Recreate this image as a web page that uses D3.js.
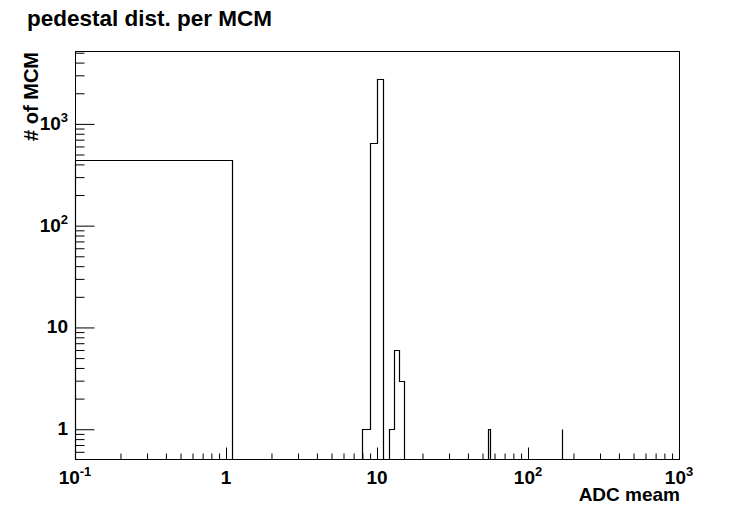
<!DOCTYPE html>
<html>
<head>
<meta charset="utf-8">
<script src="https://cdn.jsdelivr.net/npm/d3@7"></script>
<style>
  html, body { margin: 0; padding: 0; background: #fff; }
  svg { display: block; }
  text { font-family: "Liberation Sans", Arial, Helvetica, sans-serif; font-weight: bold; fill: #000; }
</style>
</head>
<body>
<svg id="chart" width="756" height="511"></svg>
<script>
// ---- data ----
const title = "pedestal dist. per MCM";
const xTitle = "ADC meam";
const yTitle = "# of MCM";
const binLow  = [0.1, 8, 9, 10, 12, 13, 14, 54, 167];
const binHigh = [1.1, 9, 10, 11, 13, 14, 15, 55.6, 168];
const counts  = [440, 1, 650, 2750, 1, 6, 3, 1, 1];
const xDomain = [0.1, 1000];
const yDomain = [0.51, 5200];
const xMajor = [0.1, 1, 10, 100, 1000];
const xMajorBase = ["10", "1", "10", "10", "10"];
const xMajorExp  = ["-1", "", "", "2", "3"];
const yMajor = [1, 10, 100, 1000];
const yMajorBase = ["1", "10", "10", "10"];
const yMajorExp  = ["", "", "2", "3"];

// ---- layout ----
const m = { left: 75, right: 679, top: 51, bottom: 459 };
const svg = d3.select("#chart");

const x = d3.scaleLog().domain(xDomain).range([m.left, m.right]);
const y = d3.scaleLog().domain(yDomain).range([m.bottom, m.top]);
const px = v => Math.round(v) + 0.5;

function minorTicks(domain) {
  const out = [];
  const lo = Math.floor(Math.log10(domain[0])), hi = Math.ceil(Math.log10(domain[1]));
  for (let e = lo; e <= hi; e++) {
    for (let k = 2; k <= 9; k++) {
      const v = k * Math.pow(10, e);
      if (v >= domain[0] * 0.9999 && v <= domain[1] * 1.0001) out.push(v);
    }
  }
  return out;
}

// histogram step outline
const bins = binLow.map((lo, i) => ({ lo, hi: binHigh[i], c: counts[i] }));
const base = m.bottom + 0.5;
let pts = [];
bins.forEach((b, i) => {
  const x0 = px(x(b.lo)), x1 = px(x(b.hi)), yt = px(y(b.c));
  const prev = bins[i - 1];
  if (!prev || Math.abs(prev.hi - b.lo) > 1e-9) pts.push([x0, base]);
  pts.push([x0, yt]);
  pts.push([x1, yt]);
  const next = bins[i + 1];
  if (!next || Math.abs(next.lo - b.hi) > 1e-9) pts.push([x1, base]);
});
svg.append("path")
  .attr("d", d3.line()(pts))
  .attr("fill", "none").attr("stroke", "#000").attr("stroke-width", 1.2);

// frame
svg.append("rect")
  .attr("x", m.left + 0.5).attr("y", m.top + 0.5)
  .attr("width", m.right - m.left).attr("height", m.bottom - m.top)
  .attr("fill", "none").attr("stroke", "#000").attr("stroke-width", 1);

// x ticks
const gx = svg.append("g").attr("transform", `translate(0,${m.bottom + 0.5})`);
gx.append("g").call(d3.axisBottom(x).tickValues(xMajor).tickSize(-12).tickFormat(""));
gx.append("g").call(d3.axisBottom(x).tickValues(minorTicks(xDomain)).tickSize(-6).tickFormat(""));
gx.selectAll(".domain").remove();
gx.selectAll("line").attr("stroke", "#000");

// y ticks
const gy = svg.append("g").attr("transform", `translate(${m.left + 0.5},0)`);
gy.append("g").call(d3.axisLeft(y).tickValues(yMajor).tickSize(-19).tickFormat(""));
gy.append("g").call(d3.axisLeft(y).tickValues(minorTicks(yDomain)).tickSize(-9).tickFormat(""));
gy.selectAll(".domain").remove();
gy.selectAll("line").attr("stroke", "#000");

// x tick labels
xMajor.forEach((v, i) => {
  const t = svg.append("text")
    .attr("x", x(v)).attr("y", 484)
    .attr("text-anchor", "middle")
    .attr("font-size", 19);
  t.append("tspan").text(xMajorBase[i]);
  if (xMajorExp[i]) t.append("tspan").attr("font-size", 13).attr("dy", -8).text(xMajorExp[i]);
});

// y tick labels
yMajor.forEach((v, i) => {
  const t = svg.append("text")
    .attr("x", 68).attr("y", y(v) + 6)
    .attr("text-anchor", "end")
    .attr("font-size", 19);
  t.append("tspan").text(yMajorBase[i]);
  if (yMajorExp[i]) t.append("tspan").attr("font-size", 13).attr("dy", -8).text(yMajorExp[i]);
});

// titles
svg.append("text").attr("x", 27).attr("y", 26).attr("font-size", 22.5).text(title);
svg.append("text").attr("x", 680).attr("y", 501).attr("text-anchor", "end").attr("font-size", 19).text(xTitle);
svg.append("text")
  .attr("transform", `translate(38,${m.top + 1}) rotate(-90)`)
  .attr("text-anchor", "end").attr("font-size", 20).text(yTitle);
</script>
</body>
</html>
